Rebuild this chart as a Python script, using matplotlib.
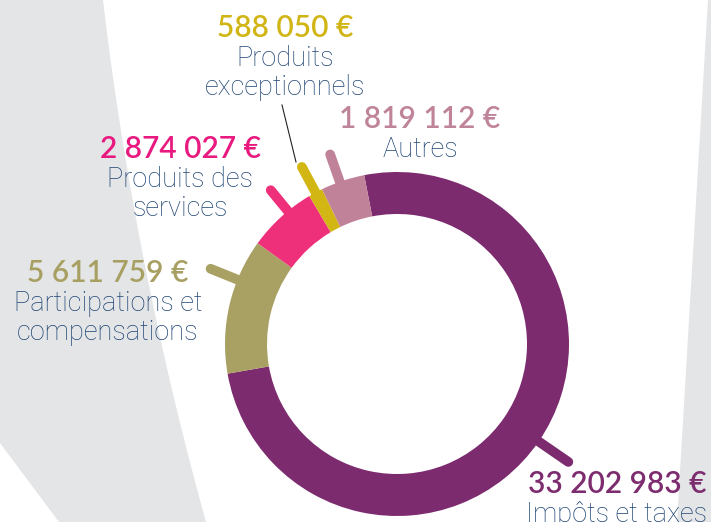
import numpy as np
import matplotlib.pyplot as plt

categories = ["Impôts et taxes", "Participations et\ncompensations",
              "Produits des\nservices", "Produits\nexceptionnels", "Autres"]
values = [33202983, 5611759, 2874027, 588050, 1819112]
value_labels = ["33 202 983 €", "5 611 759 €", "2 874 027 €", "588 050 €", "1 819 112 €"]
colors = ["#7d2b6f", "#a9a063", "#ee307b", "#d2b714", "#c08299"]
value_colors = ["#7e2c70", "#a8a063", "#e8197f", "#d1b515", "#c0849a"]

# layout (pixels, y up)
W, H = 711, 522
cx, cy = 397, H - 344
r_out, r_in = 172, 130
tab_shift = [0, -9, -3, 0, 1]
tab_end = [208, 201, 199, 201, 201]
text_pos = [(617, 493), (108, 282), (180, 158), (285, 37), (420, 128)]
line_gap = 29
label_color = "#1f4574"
grey = "#e4e5e7"

fig = plt.figure(figsize=(7.11, 5.22), dpi=100)
ax = fig.add_axes([0, 0, 1, 1])

# background shapes
ys = np.linspace(0, H, 60)
xs = 103 + 0.1175 * ys + 0.000153 * ys ** 2
left_x = np.concatenate([[0], xs, [59, 0]])
left_y = np.concatenate([[H], H - ys, [0, H - 443]])
ax.fill(left_x, left_y, color=grey, lw=0, zorder=0)
ax.fill([708, W, W, 677], [H, H, 0, 0], color=grey, lw=0, zorder=0)

wedges, _ = ax.pie(values, colors=colors, startangle=101, counterclock=False,
                   radius=r_out, center=(cx, cy),
                   wedgeprops=dict(width=r_out - r_in, linewidth=0))
for w in wedges:
    w.set_zorder(3)

# little sticks coming out of each slice
for i, w in enumerate(wedges):
    a = np.deg2rad((w.theta1 + w.theta2) / 2 + tab_shift[i])
    r = np.array([r_out - 6, tab_end[i]])
    ax.plot(cx + r * np.cos(a), cy + r * np.sin(a), color=colors[i], lw=7,
            solid_capstyle="round", zorder=2)

ax.plot([282, 296], [H - 105, H - 162], color="#222222", lw=0.8, zorder=2)

for i, (x, b) in enumerate(text_pos):
    ax.text(x, H - b, value_labels[i], ha="center", va="baseline",
            fontsize=21.5, color=value_colors[i], family="Lato", weight="semibold",
            zorder=5)
    for k, line in enumerate(categories[i].split("\n")):
        ax.text(x, H - b - line_gap * (k + 1), line, ha="center", va="baseline",
                fontsize=19.5, color=label_color, family="Roboto", weight="light",
                zorder=5)

ax.set_xlim(0, W)
ax.set_ylim(0, H)
ax.set_aspect("equal")
ax.axis("off")
fig.savefig("out.png", dpi=100)
